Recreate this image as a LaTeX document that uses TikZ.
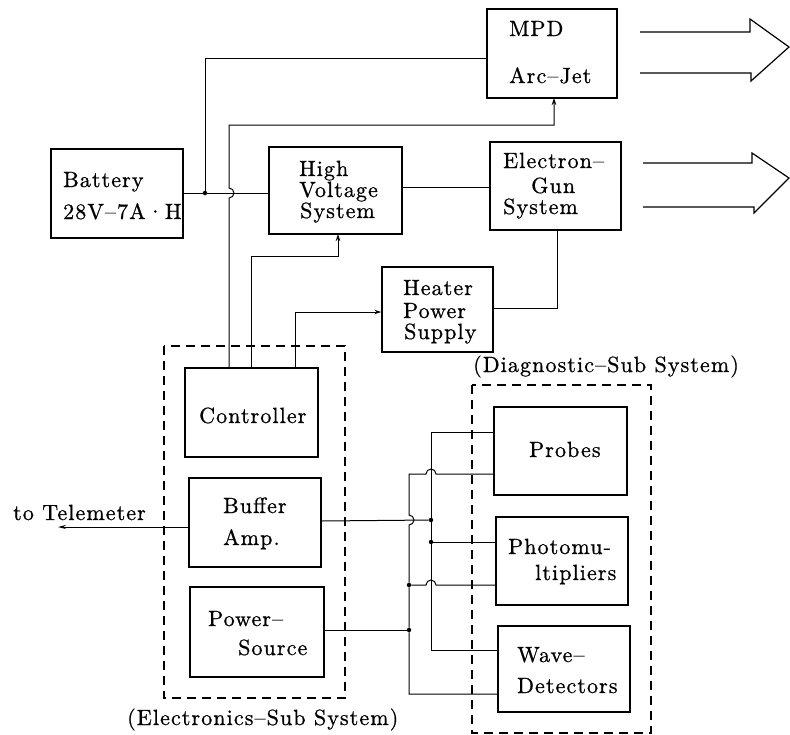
\documentclass[tikz,border=0pt]{standalone}
\usepackage{fontspec}
\newfontfamily\reffont{lmroman10-regular.otf}[LetterSpace=5,FakeBold=0.8]
\usetikzlibrary{arrows.meta}
\begin{document}
\begin{tikzpicture}[x=1pt,y=-1pt,
  box/.style={draw,line width=1.4pt,inner sep=0pt},
  txt/.style={inner sep=0pt,anchor=base west,font=\reffont\fontsize{22}{26}\selectfont},
  wire/.style={line width=1pt},
  arr/.style={wire,-{Stealth[length=7pt,width=4.5pt]}},
  dashbox/.style={draw,line width=1.2pt,dash pattern=on 9pt off 6pt},
  dot/.style={circle,fill=black,inner sep=0pt,minimum size=4.5pt},
  bigarrow/.style={line width=1.2pt,line join=miter}]
\useasboundingbox (0,0) rectangle (790,734);

% boxes
\node[box,minimum width=132pt,minimum height=89pt] (bat) at (117,193.5) {};
\node[box,minimum width=133pt,minimum height=87pt] (hv) at (335.5,190.5) {};
\node[box,minimum width=130pt,minimum height=89pt] (mpd) at (552,53.5) {};
\node[box,minimum width=131pt,minimum height=88pt] (eg) at (555.5,186) {};
\node[box,minimum width=111pt,minimum height=85pt] (heat) at (437.5,309.5) {};
\node[box,minimum width=133pt,minimum height=89pt] (ctrl) at (251.5,412.5) {};
\node[box,minimum width=132pt,minimum height=89pt] (buf) at (255,522.5) {};
\node[box,minimum width=134pt,minimum height=90pt] (ps) at (257,632) {};
\node[box,minimum width=133pt,minimum height=88pt] (prb) at (560.5,451) {};
\node[box,minimum width=132pt,minimum height=88pt] (pm) at (562,561) {};
\node[box,minimum width=132pt,minimum height=86pt] (wd) at (564,669) {};

% dashed sub-system frames
\draw[dashbox] (164,346) rectangle (345,698);
\draw[dashbox] (472,385) rectangle (651,733);

% texts
\node[txt] (tbat1) at (63,187) {Battery};
\node[txt] (tbat2) at (63,219) {28V\textendash 7A\textperiodcentered H};
\node[txt] (thv1) at (299,176) {High};
\node[txt] (thv2) at (299,197) {Voltage};
\node[txt] (thv3) at (300,218) {System};
\node[txt] (tmpd1) at (509,36) {MPD};
\node[txt] (tmpd2) at (509,83) {Arc\textendash Jet};
\node[txt] (teg1) at (503,168) {Electron\textendash};
\node[txt] (teg2) at (531,193) {Gun};
\node[txt] (teg3) at (503,214) {System};
\node[txt] (th1) at (403,295) {Heater};
\node[txt] (th2) at (403,318) {Power};
\node[txt] (th3) at (404,339) {Supply};
\node[txt] (tctrl) at (199,423) {Controller};
\node[txt] (tbuf1) at (223,513) {Buffer};
\node[txt] (tbuf2) at (223,545) {Amp.};
\node[txt] (tps1) at (208,626) {Power\textendash};
\node[txt] (tps2) at (238,655) {Source};
\node[txt] (tprb) at (529,457) {Probes};
\node[txt] (tpm1) at (508,554) {Photomu-};
\node[txt] (tpm2) at (535,580) {ltipliers};
\node[txt] (twd1) at (517,662) {Wave\textendash};
\node[txt] (twd2) at (517,693) {Detectors};
\node[txt] (ttel) at (13,520) {to Telemeter};
\node[txt] (telec) at (127,725) {(Electronics\textendash Sub System)};
\node[txt] (tdiag) at (473,372) {(Diagnostic\textendash Sub System)};

% junctions
\node[dot] (j1) at (205,193) {};
\node[dot] (jb) at (431,520) {};
\node[dot] (jp) at (431,542) {};
\node[dot] (jq) at (409,585) {};
\node[dot] (jr) at (409,630) {};
\coordinate (tel) at (58,527);

% upper connectors
\draw[wire] (bat.east |- j1) -- (j1) -- (hv.west |- j1);
\draw[wire] (j1) -- (205,58) -- (mpd.west |- 0,58);
\draw[arr] (229,368) -- (229,198) arc (90:-90:5) -- (229,125) -- (554,125) -- (554,98);
\draw[arr] (251,368) -- (251,256) -- (338,256) -- (338,234);
\draw[arr] (295,368) -- (295,312) -- (heat.west |- 0,312);
\draw[wire] (hv.east |- 0,187) -- (eg.west |- 0,187);
\draw[wire] (heat.east |- 0,308) -- (557,308) -- (557,230);

% telemeter
\draw[wire,-{Stealth[length=8pt,width=4pt]}] (buf.west |- 0,527) -- (tel);

% bus lines
\draw[wire] (prb.west |- 0,432) -- (431,432) -- (jb) -- (jp) -- (431,650) -- (wd.west |- 0,650);
\draw[wire] (prb.west |- 0,474) -- (436,474) arc (0:-180:5) -- (409,474) -- (409,515) arc (-90:90:5) -- (jq) -- (jr) -- (409,694) -- (wd.west |- 0,694);
\draw[wire] (buf.east |- 0,521) -- (jb);
\draw[wire] (jp) -- (pm.west |- jp);
\draw[wire] (jq) -- (426,585) arc (180:360:5) -- (pm.west |- 0,585);
\draw[wire] (ps.east |- jr) -- (jr);

% output arrows
\draw[bigarrow] (640,32) -- (750,32) -- (750,19) -- (789,47) -- (751,81) -- (751,73) -- (640,73);
\draw[bigarrow] (643,163) -- (752,163) -- (752,153) -- (789,178) -- (754,213) -- (754,207) -- (643,207);
\end{tikzpicture}
\end{document}
